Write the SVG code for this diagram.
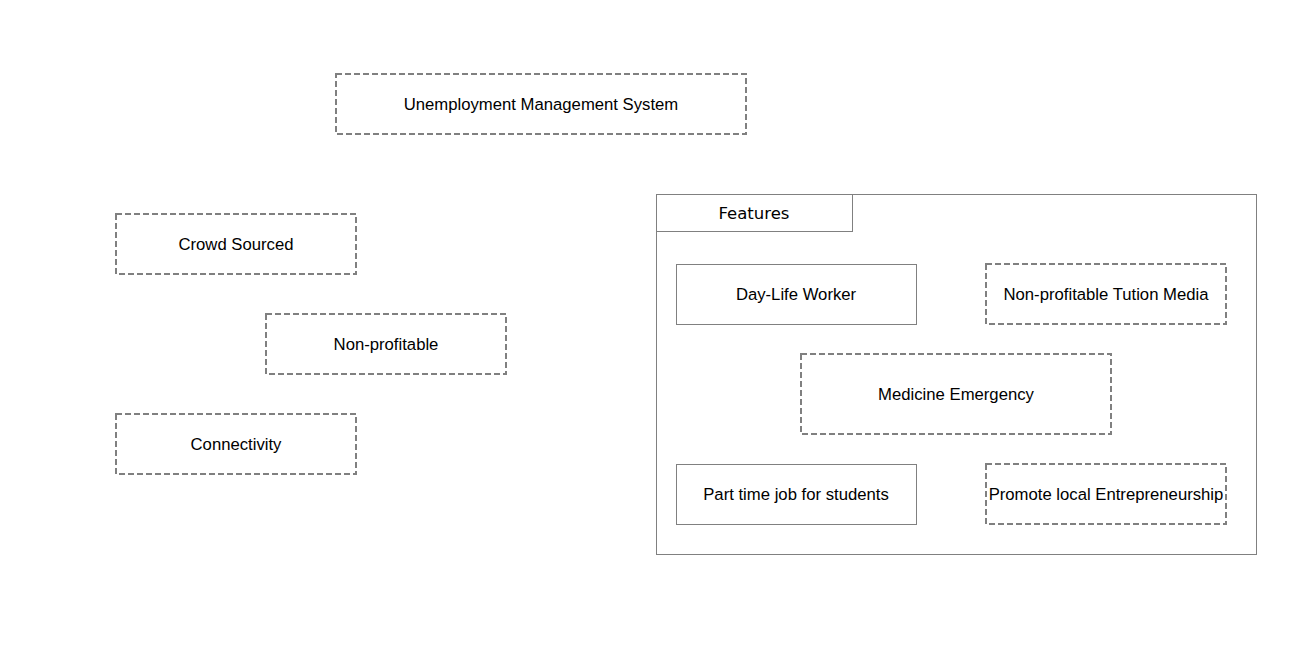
<svg xmlns="http://www.w3.org/2000/svg" width="1311" height="652" viewBox="0 0 1311 652">
<style>
.d{fill:#fff;stroke:#808080;stroke-width:2;stroke-dasharray:6,3}
.s{fill:#fff;stroke:#808080;stroke-width:1}
.t{font-family:"Liberation Sans",Arial,sans-serif;font-size:16.7px;fill:#000;text-anchor:middle;dominant-baseline:central}
.f{font-family:"DejaVu Sans",Verdana,sans-serif;font-size:16.5px;fill:#000;text-anchor:middle;dominant-baseline:central}
</style>
<rect width="1311" height="652" fill="#fff"/>
<g id="features">
<rect class="s" x="656.5" y="194.5" width="600" height="360"/>
<rect class="s" x="656.5" y="194.5" width="196" height="37"/>
<text class="f" x="754" y="213.5">Features</text>
</g>
<g id="ums"><rect class="d" x="336" y="74" width="410" height="60"/><text class="t" x="541" y="104">Unemployment Management System</text></g>
<g id="crowd"><rect class="d" x="116" y="214" width="240" height="60"/><text class="t" x="236" y="244">Crowd Sourced</text></g>
<g id="nonprofit"><rect class="d" x="266" y="314" width="240" height="60"/><text class="t" x="386" y="344">Non-profitable</text></g>
<g id="connectivity"><rect class="d" x="116" y="414" width="240" height="60"/><text class="t" x="236" y="444">Connectivity</text></g>
<g id="daylife"><rect class="s" x="676.5" y="264.5" width="240" height="60"/><text class="t" x="796" y="294">Day-Life Worker</text></g>
<g id="tution"><rect class="d" x="986" y="264" width="240" height="60"/><text class="t" x="1106" y="294">Non-profitable Tution Media</text></g>
<g id="medicine"><rect class="d" x="801" y="354" width="310" height="80"/><text class="t" x="956" y="394">Medicine Emergency</text></g>
<g id="parttime"><rect class="s" x="676.5" y="464.5" width="240" height="60"/><text class="t" x="796" y="494">Part time job for students</text></g>
<g id="promote"><rect class="d" x="986" y="464" width="240" height="60"/><text class="t" x="1106" y="494">Promote local Entrepreneurship</text></g>
<g id="connectors"></g>
</svg>
